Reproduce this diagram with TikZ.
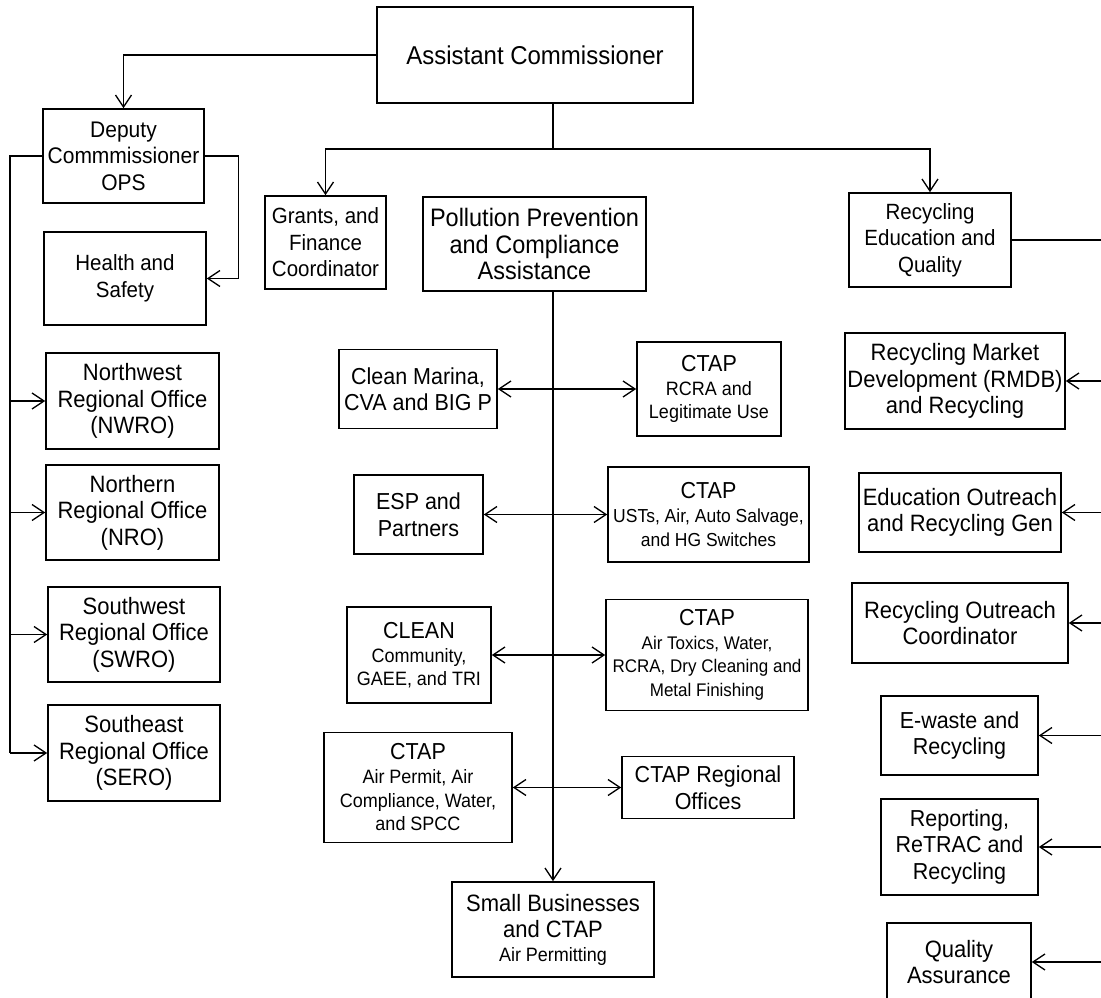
\documentclass[tikz,border=0pt]{standalone}
\usepackage{fontspec}
\setmainfont[FakeStretch=0.93]{Liberation Sans}
\usetikzlibrary{arrows.meta}
\newcommand\fsz[2]{\fontsize{\fpeval{#1*1.075}pt}{#2pt}\selectfont}
\newcommand\subtxt{\fsz{18}{23}}
\tikzset{
  x=1pt, y=-1pt,
  box/.style={draw, line width=1.6pt, inner sep=0pt, align=center, font=\fsz{22}{26.5}},
  ctapbox/.style={box, font=\fsz{18}{23.5}},
  conn/.style={line width=1.3pt, -{Straight Barb[length=12pt,width=16pt]}},
  dconn/.style={line width=1.3pt, {Straight Barb[length=12pt,width=16pt]}-{Straight Barb[length=12pt,width=16pt]}},
  thickline/.style={line width=2.8pt},
  medline/.style={line width=1.8pt},
}
\newcommand\ctapline{\fsz{21.5}{23.5}CTAP}
\begin{document}
\begin{tikzpicture}
\clip (0,0) rectangle (1101,998);
\fill[white] (0,0) rectangle (1101,998);
% top
\node[box, minimum width=316pt, minimum height=96pt, font=\fsz{24}{28}] (ac) at (535,55) {Assistant Commissioner};
% left column
\node[box, minimum width=161pt, minimum height=94pt, font=\fsz{21}{26.5}] (dep) at (123.5,156) {Deputy\\Commmissioner\\OPS};
\node[box, minimum width=162pt, minimum height=93pt, font=\fsz{20.5}{26.5}] (hs) at (125,278.5) {Health and\\Safety};
\node[box, minimum width=173pt, minimum height=96pt] (nw) at (132.5,401) {Northwest\\Regional Office\\(NWRO)};
\node[box, minimum width=173pt, minimum height=95pt] (nro) at (132.5,512.5) {Northern\\Regional Office\\(NRO)};
\node[box, minimum width=172pt, minimum height=95pt] (sw) at (134,634.5) {Southwest\\Regional Office\\(SWRO)};
\node[box, minimum width=172pt, minimum height=96pt] (se) at (134,753) {Southeast\\Regional Office\\(SERO)};
% second row
\node[box, minimum width=121pt, minimum height=93pt, font=\fsz{20.5}{26.5}] (gr) at (325.5,242.5) {Grants, and\\Finance\\Coordinator};
\node[box, minimum width=223pt, minimum height=94pt, font=\fsz{23.5}{26.5}] (pp) at (534.5,244) {Pollution Prevention\\and Compliance\\Assistance};
\node[box, minimum width=162pt, minimum height=94pt, font=\fsz{20.5}{26.5}] (rq) at (930,240) {Recycling\\Education and\\Quality};
% middle column
\node[box, minimum width=158pt, minimum height=79pt, font=\fsz{21.5}{26.5}] (cm) at (418,389) {Clean Marina,\\CVA and BIG P};
\node[ctapbox, minimum width=144pt, minimum height=94pt] (c1) at (709,389) {\ctapline\\[0.5pt]RCRA and\\Legitimate Use};
\node[box, minimum width=129pt, minimum height=79pt, font=\fsz{21.5}{26.5}] (esp) at (418.5,514.5) {ESP and\\Partners};
\node[ctapbox, minimum width=201pt, minimum height=95pt, font=\fsz{17.5}{23.5}] (c2) at (708.5,514.5) {\ctapline\\[0.5pt]USTs, Air, Auto Salvage,\\and HG Switches};
\node[ctapbox, minimum width=144pt, minimum height=96pt] (clean) at (419,655) {{\fsz{21.5}{23.5}CLEAN}\\[0.5pt]Community,\\GAEE, and TRI};
\node[ctapbox, minimum width=202pt, minimum height=111pt, font=\fsz{17}{23.5}] (c3) at (707,655) {\ctapline\\Air Toxics, Water,\\RCRA, Dry Cleaning and\\Metal Finishing};
\node[ctapbox, minimum width=188pt, minimum height=110pt] (c4) at (418,787.5) {\ctapline\\[0.5pt]Air Permit, Air\\Compliance, Water,\\and SPCC};
\node[box, minimum width=172pt, minimum height=62pt, font=\fsz{21.5}{26.5}] (cr) at (708,787.5) {CTAP Regional\\Offices};
\node[box, minimum width=202pt, minimum height=95pt] (sb) at (553,929.5) {Small Businesses\\and CTAP\\[-3pt]\subtxt Air Permitting};
% right column
\node[box, minimum width=220pt, minimum height=96pt] (rmdb) at (955,381) {Recycling Market\\Development (RMDB)\\and Recycling};
\node[box, minimum width=202pt, minimum height=79pt] (eo) at (960,512.5) {Education Outreach\\and Recycling Gen};
\node[box, minimum width=216pt, minimum height=80pt] (roc) at (960,623) {Recycling Outreach\\Coordinator};
\node[box, minimum width=157pt, minimum height=79pt, font=\fsz{21.5}{26.5}] (ew) at (959.5,735.5) {E-waste and\\Recycling};
\node[box, minimum width=157pt, minimum height=96pt, font=\fsz{21.5}{26.5}] (rep) at (959.5,847) {Reporting,\\ReTRAC and\\Recycling};
\node[box, minimum width=144pt, minimum height=78pt] (qa) at (959,962) {Quality\\Assurance};
% coordinates
\coordinate (j1) at (553,149);
\coordinate (lb) at (10,0);
\coordinate (rb) at (1105,0);
% connectors from the top
\draw[conn] (ac.west) -| (dep.north);
\draw[thickline] (ac.south -| j1) -- (j1);
\draw[conn] (j1) -| (gr.north);
\draw[conn] (j1) -| (rq.north);
% deputy
\draw[conn] (dep.east) -- ++(34,0) |- (hs.east);
\draw[medline] (dep.west) -| (lb |- se.west);
\draw[conn] (lb |- nw.west) -- (nw.west);
\draw[conn] (lb |- nro.west) -- (nro.west);
\draw[conn] (lb |- sw.west) -- (sw.west);
\draw[conn] (lb |- se.west) -- (se.west);
% pollution prevention trunk
\draw[thickline] (pp.south -| j1) -- (j1 |- esp.east);
\draw[medline] (j1 |- esp.east) -- (j1 |- c4.east);
\draw[conn] (j1 |- c4.east) -- (sb.north);
\draw[dconn] (cm.east) -- (c1.west);
\draw[dconn] (esp.east) -- (c2.west);
\draw[dconn] (clean.east) -- (c3.west);
\draw[dconn] (c4.east) -- (cr.west);
% recycling bus
\draw[thickline] (rq.east) -- (rb |- rq.east) -- (rb |- qa.east);
\draw[conn] (rb |- rmdb.east) -- (rmdb.east);
\draw[conn] (rb |- eo.east) -- (eo.east);
\draw[conn] (rb |- roc.east) -- (roc.east);
\draw[conn] (rb |- ew.east) -- (ew.east);
\draw[conn] (rb |- rep.east) -- (rep.east);
\draw[conn] (rb |- qa.east) -- (qa.east);
\end{tikzpicture}
\end{document}
